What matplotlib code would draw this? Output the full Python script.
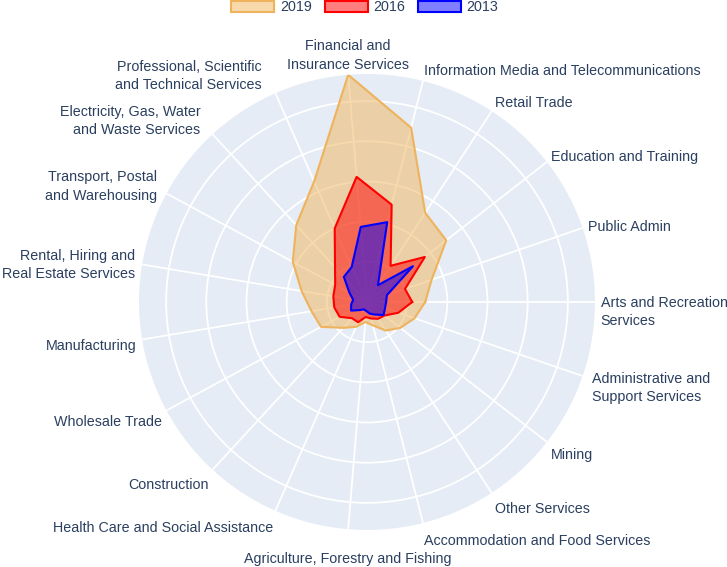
import numpy as np
import matplotlib.pyplot as plt
from matplotlib.patches import Patch
from matplotlib.colors import to_rgba

# categories, counterclockwise starting from the right (0 degrees)
categories = [
    "Arts and Recreation\nServices",
    "Public Admin",
    "Education and Training",
    "Retail Trade",
    "Information Media and Telecommunications",
    "Financial and\nInsurance Services",
    "Professional, Scientific\nand Technical Services",
    "Electricity, Gas, Water\nand Waste Services",
    "Transport, Postal\nand Warehousing",
    "Rental, Hiring and\nReal Estate Services",
    "Manufacturing",
    "Wholesale Trade",
    "Construction",
    "Health Care and Social Assistance",
    "Agriculture, Forestry and Fishing",
    "Accommodation and Food Services",
    "Other Services",
    "Mining",
    "Administrative and\nSupport Services",
]

v2019 = [2900, 3400, 5000, 5300, 8950, 11350, 6550, 5200, 4200, 3300,
         2800, 2600, 1750, 1350, 1000, 1200, 1700, 2100, 2500]
v2016 = [2250, 2000, 3650, 2150, 5000, 6250, 4000, 2350, 1800, 1700,
         1650, 1550, 1100, 1100, 750, 850, 1000, 1100, 1650]
v2013 = [950, 1050, 2900, 1000, 4100, 3750, 1900, 1700, 1000, 700,
         800, 900, 550, 400, 450, 600, 750, 1050, 950]

years = ["2019", "2016", "2013"]
ring_values = [2000, 4000, 6000, 8000, 10000]

# small extra label offsets (points, x right / y up)
label_shift = {0: (0, -4), 18: (3, 0), 14: (0, -8), 6: (-8, 0),
               7: (-6, 0), 8: (-3, 0), 9: (-1, 0)}

plt.rcParams['font.family'] = ['Liberation Sans', 'DejaVu Sans']
text_color = '#2a3f5f'

fig = plt.figure(figsize=(7.27, 5.67), dpi=100)
ax = fig.add_axes([0.1912, 0.0653, 0.6272, 0.8042], projection='polar')

n = len(categories)
theta = np.arange(n) * 2 * np.pi / n
rmax = max(v2019)

ax.set_facecolor('#E5ECF6')
ax.set_axisbelow(True)
ax.set_ylim(0, rmax)
ax.set_xticks(theta)
ax.set_xticklabels([''] * n)
ax.set_yticks(ring_values)
ax.set_yticklabels([''] * len(ring_values))
ax.grid(color='white', lw=1.3)
ax.spines['polar'].set_visible(False)
ax.tick_params(length=0)

styles = [('#EEB35C', '#F0B45A'), ('red', 'red'), ('blue', 'blue')]
series = [v2019, v2016, v2013]

for vals, (line, face) in zip(series, styles):
    t = np.append(theta, theta[0])
    r = np.append(vals, vals[0])
    ax.fill(t, r, color=face, alpha=0.5, lw=0, zorder=2)
    ax.plot(t, r, color=line, lw=1.5, zorder=3)

# category labels around the outside
for i, lab in enumerate(categories):
    c, s = np.cos(theta[i]), np.sin(theta[i])
    nlines = lab.count('\n') + 1
    h = nlines * 13
    pad = 4
    sx, sy = label_shift.get(i, (0, 0))
    dx = pad * c + sx
    dy = pad * s + s * h / 2 + sy - 3
    if c > 0.15:
        ha = 'left'
    elif c < -0.15:
        ha = 'right'
    else:
        ha = 'center'
    ax.annotate(lab, xy=(theta[i], rmax), xytext=(dx, dy),
                textcoords='offset points', ha=ha, va='center',
                multialignment=ha, fontsize=10.3, color=text_color,
                linespacing=1.4, annotation_clip=False)

handles = [Patch(facecolor=to_rgba(face, 0.5), edgecolor=line, lw=1.5)
           for line, face in styles]
fig.legend(handles, years, loc='center', bbox_to_anchor=(0.502, 0.987),
           ncol=3, frameon=False, handlelength=3, handleheight=0.8,
           handletextpad=0.4, columnspacing=0.9, fontsize=10.3,
           labelcolor=text_color)

fig.savefig('out.png', dpi=100)
